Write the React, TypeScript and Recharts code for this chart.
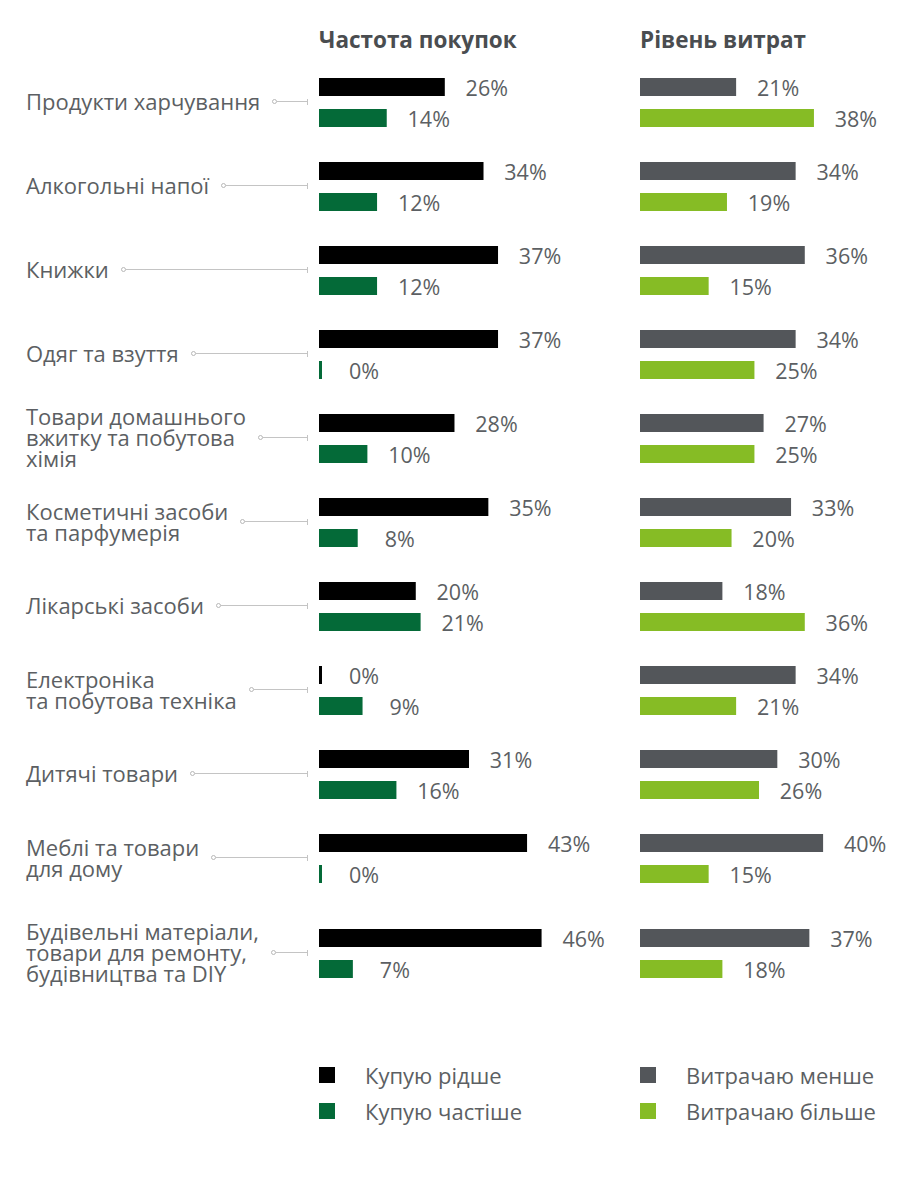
import { BarChart, Bar, XAxis, YAxis, LabelList } from 'recharts';

const categories = [
  'Продукти харчування',
  'Алкогольні напої',
  'Книжки',
  'Одяг та взуття',
  'Товари домашнього\nвжитку та побутова\nхімія',
  'Косметичні засоби\nта парфумерія',
  'Лікарські засоби',
  'Електроніка\nта побутова техніка',
  'Дитячі товари',
  'Меблі та товари\nдля дому',
  'Будівельні матеріали,\nтовари для ремонту,\nбудівництва та DIY',
];

// Частота покупок
const buyLess = [26, 34, 37, 37, 28, 35, 20, 0, 31, 43, 46];
const buyMore = [14, 12, 12, 0, 10, 8, 21, 9, 16, 0, 7];
// Рівень витрат
const spendLess = [21, 34, 36, 34, 27, 33, 18, 34, 30, 40, 37];
const spendMore = [38, 19, 15, 25, 25, 20, 36, 21, 26, 15, 18];

const C_BLACK = '#000000';
const C_GREEN = '#046a38';
const C_GRAY = '#53565a';
const C_LIME = '#86bc25';
const TEXT = '#5c5f63';
const FONT = '"Open Sans", "Noto Sans", sans-serif';

const ROW_H = 84;

const renderValue = (props: any) => {
  const { x, y, width, height, value } = props;
  return (
    <text
      x={x + width + 42}
      y={y + height / 2}
      textAnchor="middle"
      dominantBaseline="central"
      fill={TEXT}
      fontSize={21.5}
      fontFamily={FONT}
    >
      {value}%
    </text>
  );
};

function RowChart({ name, a, b, ca, cb, width, max }: any) {
  const data = [{ name, a, b }];
  return (
    <BarChart
      width={width}
      height={ROW_H}
      data={data}
      layout="vertical"
      margin={{ top: 0, right: 0, bottom: 0, left: 0 }}
      barSize={18}
      barGap={13}
    >
      <XAxis type="number" domain={[0, max]} hide />
      <YAxis type="category" dataKey="name" hide />
      <Bar dataKey="a" fill={ca} isAnimationActive={false} minPointSize={3}>
        <LabelList dataKey="a" content={renderValue} />
      </Bar>
      <Bar dataKey="b" fill={cb} isAnimationActive={false} minPointSize={3}>
        <LabelList dataKey="b" content={renderValue} />
      </Bar>
    </BarChart>
  );
}

function Label({ text }: { text: string }) {
  return (
    <div style={{ width: 282, display: 'flex', alignItems: 'center' }}>
      <span style={{ whiteSpace: 'pre-line', fontSize: 22, lineHeight: '21px', color: TEXT }}>{text}</span>
      <div style={{ flex: 1, marginLeft: 12, display: 'flex', alignItems: 'center', minWidth: 20 }}>
        <div style={{ width: 5, height: 5, borderRadius: '50%', border: '1px solid #b8b8b8', boxSizing: 'border-box' }} />
        <div style={{ flex: 1, height: 1, background: '#c4c4c4' }} />
        <div style={{ width: 1, height: 6, background: '#c4c4c4' }} />
      </div>
    </div>
  );
}

function LegendItem({ color, text }: { color: string; text: string }) {
  return (
    <div style={{ display: 'flex', alignItems: 'center', height: 36 }}>
      <div style={{ width: 16, height: 16, background: color }} />
      <span style={{ marginLeft: 30, fontSize: 22, color: TEXT }}>{text}</span>
    </div>
  );
}

export default function App() {
  return (
    <div
      style={{
        position: 'absolute',
        left: 0,
        top: 0,
        width: 908,
        height: 1198,
        background: '#fff',
        fontFamily: FONT,
      }}
    >
      <div style={{ position: 'absolute', left: 319, top: 24, fontSize: 22.5, fontWeight: 700, color: '#4a4d50' }}>
        Частота покупок
      </div>
      <div style={{ position: 'absolute', left: 640, top: 24, fontSize: 22.5, fontWeight: 700, color: '#4a4d50' }}>
        Рівень витрат
      </div>

      <div style={{ position: 'absolute', left: 26, top: 59.5 }}>
        {categories.map((c, i) => (
          <div
            key={c}
            style={{ display: 'flex', alignItems: 'center', height: ROW_H, marginTop: i === categories.length - 1 ? 11 : 0 }}
          >
            <Label text={c} />
            <div style={{ marginLeft: 11 }}>
              <RowChart name={c} a={buyLess[i]} b={buyMore[i]} ca={C_BLACK} cb={C_GREEN} width={300} max={62} />
            </div>
            <div style={{ marginLeft: 21 }}>
              <RowChart name={c} a={spendLess[i]} b={spendMore[i]} ca={C_GRAY} cb={C_LIME} width={260} max={56.8} />
            </div>
          </div>
        ))}
      </div>

      <div style={{ position: 'absolute', left: 319, top: 1057 }}>
        <LegendItem color={C_BLACK} text="Купую рідше" />
        <LegendItem color={C_GREEN} text="Купую частіше" />
      </div>
      <div style={{ position: 'absolute', left: 640, top: 1057 }}>
        <LegendItem color={C_GRAY} text="Витрачаю менше" />
        <LegendItem color={C_LIME} text="Витрачаю більше" />
      </div>
    </div>
  );
}
